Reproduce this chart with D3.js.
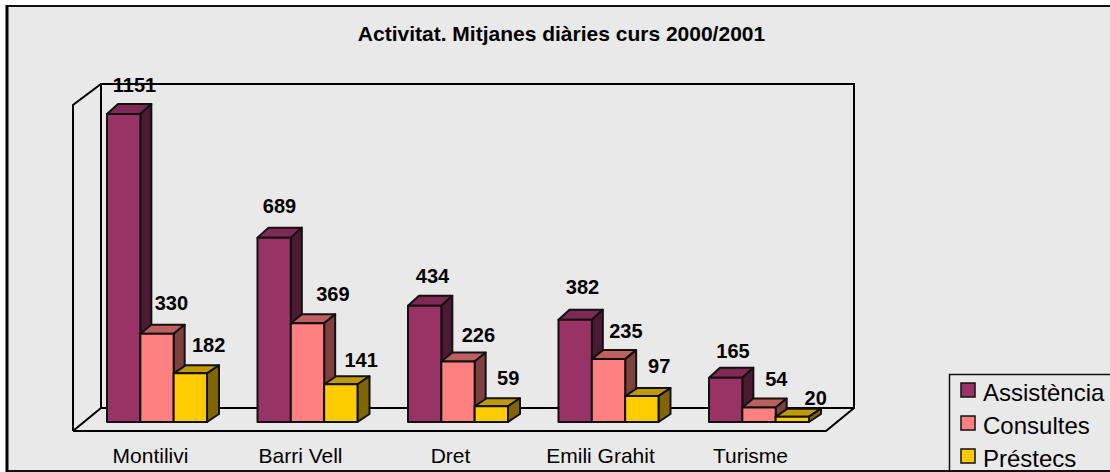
<!DOCTYPE html>
<html>
<head>
<meta charset="utf-8">
<script src="https://cdn.jsdelivr.net/npm/d3@7"></script>
<style>
  html, body { margin: 0; padding: 0; background: #fff; }
  svg { display: block; font-family: "Liberation Sans", Arial, sans-serif; }
</style>
</head>
<body>
<svg id="chart" width="1110" height="472"></svg>
<script>
const categories = ['Montilivi', 'Barri Vell', 'Dret', 'Emili Grahit', 'Turisme'];
const seriesNames = ['Assistència', 'Consultes', 'Préstecs'];
const assistencia = [1151, 689, 434, 382, 165];
const consultes = [330, 369, 226, 235, 54];
const prestecs = [182, 141, 59, 97, 20];
const seriesValues = [assistencia, consultes, prestecs];

// face colours per series: front, top, side
const faceColors = [
  ['#993366', '#7f2a55', '#4d1a33'],
  ['#ff8080', '#bf6060', '#804040'],
  ['#ffcc00', '#bf9900', '#806600']
];
// 3d offset of each series
const depthX = [11, 11, 12];
const depthY = [10, 9, 8];
// hand placed label centres, relative to the bar's front-left corner and top
const labelDx = [[27.5, 31, 35], [22, 42, 37], [24.5, 37, 33.5], [24, 34, 34], [24, 34, 40]];
const labelDy = [[-22, -24, -21], [-25, -22, -17], [-23, -20, -21], [-26, -21, -23], [-20, -22, -12]];

const svg = d3.select('#chart');
const floorY = 422;

// Scales
const x0 = d3.scaleBand().domain(categories).range([107, 809]).paddingInner(0.3355);
const x1 = d3.scaleBand().domain(d3.range(3)).range([0, x0.bandwidth()]);
const y = d3.scaleLinear().domain([0, 1151]).range([floorY, 114]);
const xLabels = d3.scalePoint().domain(categories).range([150, 750]);

// Outer frame, open on the right
svg.append('rect').attr('x', 7).attr('y', 6).attr('width', 1103).attr('height', 465).attr('fill', '#e9e9e9');
svg.append('path').attr('d', 'M1110,6 L7,6 L7,471 L1110,471').attr('fill', 'none')
  .attr('stroke', '#111').attr('stroke-width', 2);
svg.append('line').attr('x1', 7).attr('x2', 7).attr('y1', 5).attr('y2', 472)
  .attr('stroke', '#000').attr('stroke-width', 3);

svg.append('text').attr('x', 561.5).attr('y', 41).attr('text-anchor', 'middle')
  .attr('font-size', 21).attr('font-weight', 'bold').text('Activitat. Mitjanes diàries curs 2000/2001');

// Walls and floor
const box = svg.append('g').attr('fill', 'none').attr('stroke', '#000').attr('stroke-width', 2);
box.append('path').attr('d', 'M73,431 L73,105 L101,84 L854,84 L854,408 L826,431 L73,431 M73,431 L101,408 L854,408 M101,84 L101,408');

// Bars
categories.forEach((cat, c) => {
  seriesValues.forEach((vals, s) => {
    const left = x0(cat) + x1(s), right = left + x1.bandwidth();
    const top = y(vals[c]);
    const dx = depthX[s], dy = depthY[s];
    const g = svg.append('g').attr('stroke', '#111').attr('stroke-width', 2).attr('stroke-linejoin', 'round');
    g.append('path').attr('fill', faceColors[s][1])
      .attr('d', `M${left},${top} L${left + dx},${top - dy} L${right + dx},${top - dy} L${right},${top} Z`);
    g.append('path').attr('fill', faceColors[s][2])
      .attr('d', `M${right},${top} L${right + dx},${top - dy} L${right + dx},${floorY - dy} L${right},${floorY} Z`);
    g.append('rect').attr('fill', faceColors[s][0])
      .attr('x', left).attr('y', top).attr('width', right - left).attr('height', floorY - top);
  });
});

// Value labels
categories.forEach((cat, c) => {
  seriesValues.forEach((vals, s) => {
    svg.append('text')
      .attr('x', x0(cat) + x1(s) + labelDx[c][s])
      .attr('y', y(vals[c]) + labelDy[c][s])
      .attr('text-anchor', 'middle').attr('font-size', 20).attr('font-weight', 'bold')
      .text(vals[c]);
  });
});

// Category axis
const axis = svg.append('g').attr('transform', 'translate(0,463)')
  .call(d3.axisBottom(xLabels).tickSize(0).tickPadding(0));
axis.select('.domain').remove();
axis.selectAll('text').attr('font-family', '"Liberation Sans", Arial, sans-serif')
  .attr('font-size', 21).attr('fill', '#000').attr('y', 0).attr('dy', 0);

// Legend, runs off the right and bottom of the frame
svg.append('path').attr('d', 'M1110,374.5 L949.5,374.5 L949.5,472').attr('fill', 'none')
  .attr('stroke', '#111').attr('stroke-width', 1.5);
seriesNames.forEach((name, i) => {
  svg.append('rect').attr('x', 961).attr('y', 383 + i * 33).attr('width', 14).attr('height', 14)
    .attr('fill', faceColors[i][0]).attr('stroke', '#111').attr('stroke-width', 1.5);
  svg.append('text').attr('x', 983).attr('y', 400.5 + i * 33).attr('font-size', 24).text(name);
});
</script>
</body>
</html>
